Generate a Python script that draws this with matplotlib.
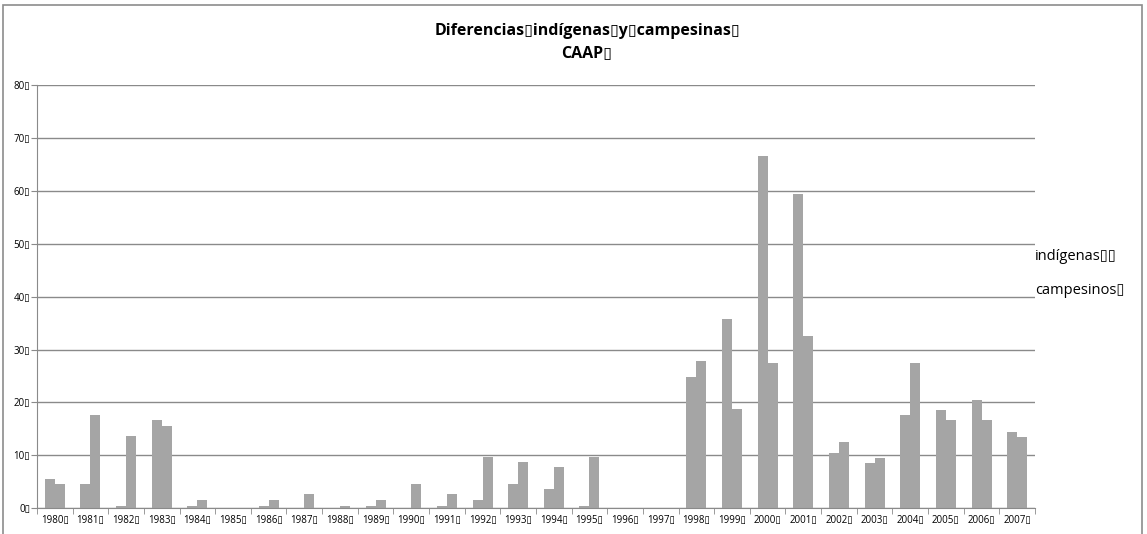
import numpy as np
import matplotlib.pyplot as plt
from matplotlib.patches import Rectangle

# datos por año
anios = [str(a) for a in range(1980, 2008)]
indigenas = [5.6, 4.6, 0.5, 16.6, 0.5, 0, 0.5, 0, 0, 0.5,
             0, 0.5, 1.6, 4.6, 3.6, 0.5, 0, 0, 24.8, 35.8,
             66.5, 59.4, 10.5, 8.6, 17.6, 18.6, 20.5, 14.5]
campesinos = [4.6, 17.6, 13.7, 15.6, 1.6, 0, 1.6, 2.7, 0.5, 1.6,
              4.6, 2.7, 9.7, 8.7, 7.8, 9.7, 0, 0, 27.8, 18.8,
              27.5, 32.6, 12.6, 9.5, 27.5, 16.6, 16.6, 13.5]

caja = '\u25af'  # glifo de caja en lugar de espacios
titulo = 'Diferencias' + caja + 'indígenas' + caja + 'y' + caja + 'campesinas' + caja + '\nCAAP' + caja

plt.rcParams['font.family'] = ['Open Sans', 'DejaVu Sans']

fig = plt.figure(figsize=(11.47, 5.34), dpi=100)
fig.patches.append(Rectangle((3 / 1147, -0.1), 1139 / 1147, 1.1 - 5 / 534,
                             transform=fig.transFigure, fill=False,
                             edgecolor='#8c8c8c', linewidth=1.2))

ax = fig.add_axes([37 / 1147, 1 - 508.3 / 534, (1035 - 37) / 1147, (508.3 - 85) / 534])

x = np.arange(len(anios))
w = 0.28
gris = '#a5a5a5'
ax.bar(x - w / 2, indigenas, w, color=gris, label='indígenas' + caja + caja)
ax.bar(x + w / 2, campesinos, w, color=gris, label='campesinos' + caja)

ax.set_xlim(-0.5, len(anios) - 0.5)
ax.set_ylim(0, 80)
ax.set_yticks(range(0, 81, 10))
ax.set_yticklabels([str(v) + caja for v in range(0, 81, 10)], fontsize=7)
ax.yaxis.grid(True, color='#8a8a8a', linewidth=1)
ax.set_axisbelow(True)

ax.set_xticks(x)
ax.set_xticklabels([a + caja for a in anios], fontsize=7)
ax.set_xticks(np.arange(-0.5, len(anios)), minor=True)
ax.tick_params(axis='x', which='major', length=0, pad=5)
ax.tick_params(axis='x', which='minor', length=4, color='#8a8a8a')
ax.tick_params(axis='y', length=4, color='#8a8a8a', pad=1)

for s in ['top', 'right']:
    ax.spines[s].set_visible(False)
for s in ['left', 'bottom']:
    ax.spines[s].set_color('#8a8a8a')

fig.text(587 / 1147, 1 - 42 / 534, titulo, ha='center', va='center',
         fontsize=11.5, fontweight='bold', linespacing=1.45)

leg = ax.legend(loc='center left', bbox_to_anchor=(1.0, 0.555), frameon=False,
                handlelength=0, handletextpad=0, fontsize=10.5, labelspacing=1.3,
                borderaxespad=0, borderpad=0)
for h in leg.legend_handles:
    h.set_visible(False)

fig.savefig('out.png', dpi=100)
